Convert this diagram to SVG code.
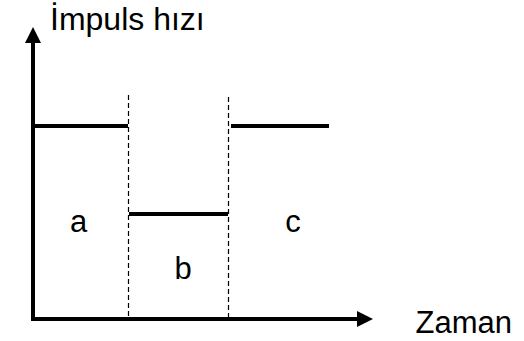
<svg xmlns="http://www.w3.org/2000/svg" width="524" height="341" viewBox="0 0 524 341">
<style>
.axis{stroke:#000;stroke-width:4;fill:none}
.lvl{stroke:#000;stroke-width:4;fill:none}
.div{stroke:#000;stroke-width:1.2;stroke-dasharray:5,3;fill:none}
text{font-family:"Liberation Sans",Arial,sans-serif;fill:#000}
</style>
<defs>
<marker id="ah" markerUnits="userSpaceOnUse" markerWidth="16" markerHeight="16" viewBox="0 0 16 16" refX="0" refY="8" orient="auto">
<path d="M0,0 L16,8 L0,16 Z" fill="#000"/>
</marker>
</defs>
<g id="connectors">
<path class="axis" d="M33,321 L33,43" marker-end="url(#ah)"/>
<path class="axis" d="M31,319 L357,319" marker-end="url(#ah)"/>
<path class="div" d="M128.5,95 L128.5,319"/>
<path class="div" d="M228.5,97 L228.5,319"/>
<path class="lvl" d="M33,126 L128,126"/>
<path class="lvl" d="M129,214 L228,214"/>
<path class="lvl" d="M231,126 L329,126"/>
</g>
<g id="y-label"><text x="50" y="30" font-size="32">İmpuls hızı</text></g>
<g id="x-label"><text x="415.5" y="332.5" font-size="31">Zaman</text></g>
<g id="region-a"><text x="78.5" y="232" font-size="31" text-anchor="middle">a</text></g>
<g id="region-b"><text x="183" y="279" font-size="31" text-anchor="middle">b</text></g>
<g id="region-c"><text x="293" y="232" font-size="31" text-anchor="middle">c</text></g>
</svg>
